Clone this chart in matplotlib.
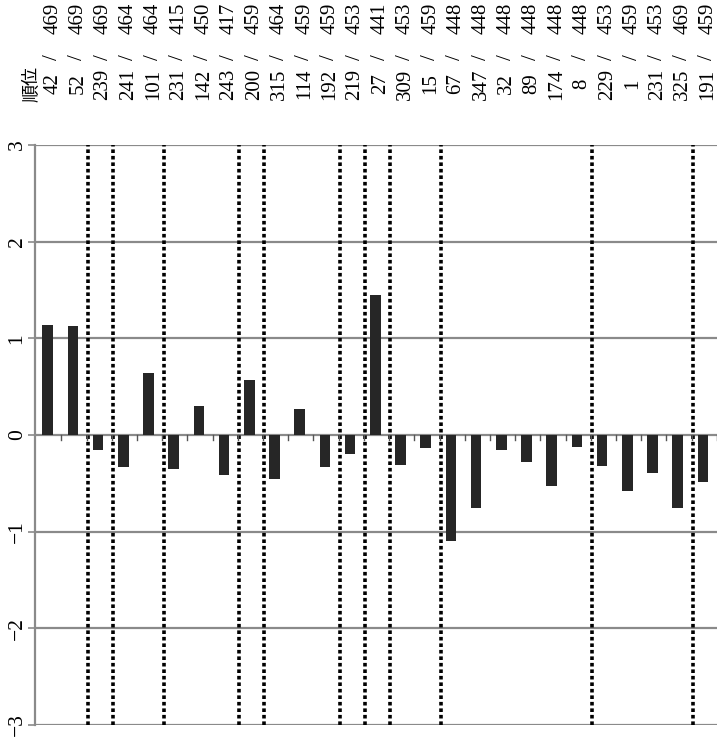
import matplotlib
matplotlib.use('Agg')
import matplotlib.pyplot as plt
from matplotlib import transforms

plt.rcParams['font.family'] = ['Liberation Serif', 'Noto Sans CJK JP']

# data
ranks = [42, 52, 239, 241, 101, 231, 142, 243, 200, 315, 114, 192, 219, 27,
         309, 15, 67, 347, 32, 89, 174, 8, 229, 1, 231, 325, 191]
totals = [469, 469, 469, 464, 464, 415, 450, 417, 459, 464, 459, 459, 453, 441,
          453, 459, 448, 448, 448, 448, 448, 448, 453, 459, 453, 469, 459]
scores = [1.14, 1.13, -0.16, -0.33, 0.64, -0.35, 0.30, -0.41, 0.57, -0.45, 0.27,
          -0.33, -0.20, 1.45, -0.31, -0.13, -1.10, -0.75, -0.15, -0.28, -0.53,
          -0.12, -0.32, -0.58, -0.39, -0.75, -0.49]
# category index where a new group starts (dotted separator before it)
group_starts = [2, 3, 5, 8, 9, 12, 13, 14, 16, 22, 26]
y_ticks = [-3, -2, -1, 0, 1, 2, 3]

W, H = 717, 740
fig = plt.figure(figsize=(W / 100, H / 100), dpi=100)
ax = fig.add_axes([35 / W, 1 - 725 / H, 1 - 35 / W, (725 - 145) / H])

xs = list(range(len(scores)))
ax.bar(xs, scores, width=0.42, color='#262626', zorder=3)

ax.set_xlim(-0.5, len(scores) - 0.44)
ax.set_ylim(-3, 3)

# horizontal grid
for t in y_ticks:
    ax.axhline(t, color='#8a8a8a', lw=1.6, zorder=1)
# group separators
for g in group_starts:
    ax.axvline(g - 0.4, color='black', lw=2.6, ls=(0, (1, 0.8)), zorder=2)

# small ticks on the zero line
for k in range(len(scores)):
    ax.plot([k + 0.55, k + 0.55], [0, -0.05], color='#555555', lw=1, zorder=2)

for s in ['top', 'right', 'bottom']:
    ax.spines[s].set_visible(False)
ax.spines['left'].set_color('#8a8a8a')
ax.spines['left'].set_linewidth(1.6)

ax.set_xticks([])
ax.set_yticks(y_ticks)
ax.set_yticklabels([str(t).replace('-', '\u2212') for t in y_ticks])
ax.tick_params(axis='y', length=5, width=1.2, color='#8a8a8a', pad=1,
               labelsize=15.5, labelrotation=90)
for lab in ax.get_yticklabels():
    lab.set_verticalalignment('center')

# rank labels above the plot, rotated like the scanned page
tr = transforms.blended_transform_factory(ax.transData, fig.transFigure)
kw = dict(transform=tr, rotation=90, rotation_mode='anchor', ha='center',
          va='baseline', fontsize=15, clip_on=False)
for x, r, n in zip(xs, ranks, totals):
    xt = x + 0.38
    ax.text(xt, 1 - 84 / H, str(r), **kw)
    ax.text(xt, 1 - 57 / H, '/', **kw)
    ax.text(xt, 1 - 18 / H, str(n), **kw)

fig.text(31 / W, 1 - 84 / H, '順位', rotation=90, ha='center', va='center',
         fontsize=13, family=['Noto Sans CJK JP'])

fig.savefig('out.png', dpi=100)
